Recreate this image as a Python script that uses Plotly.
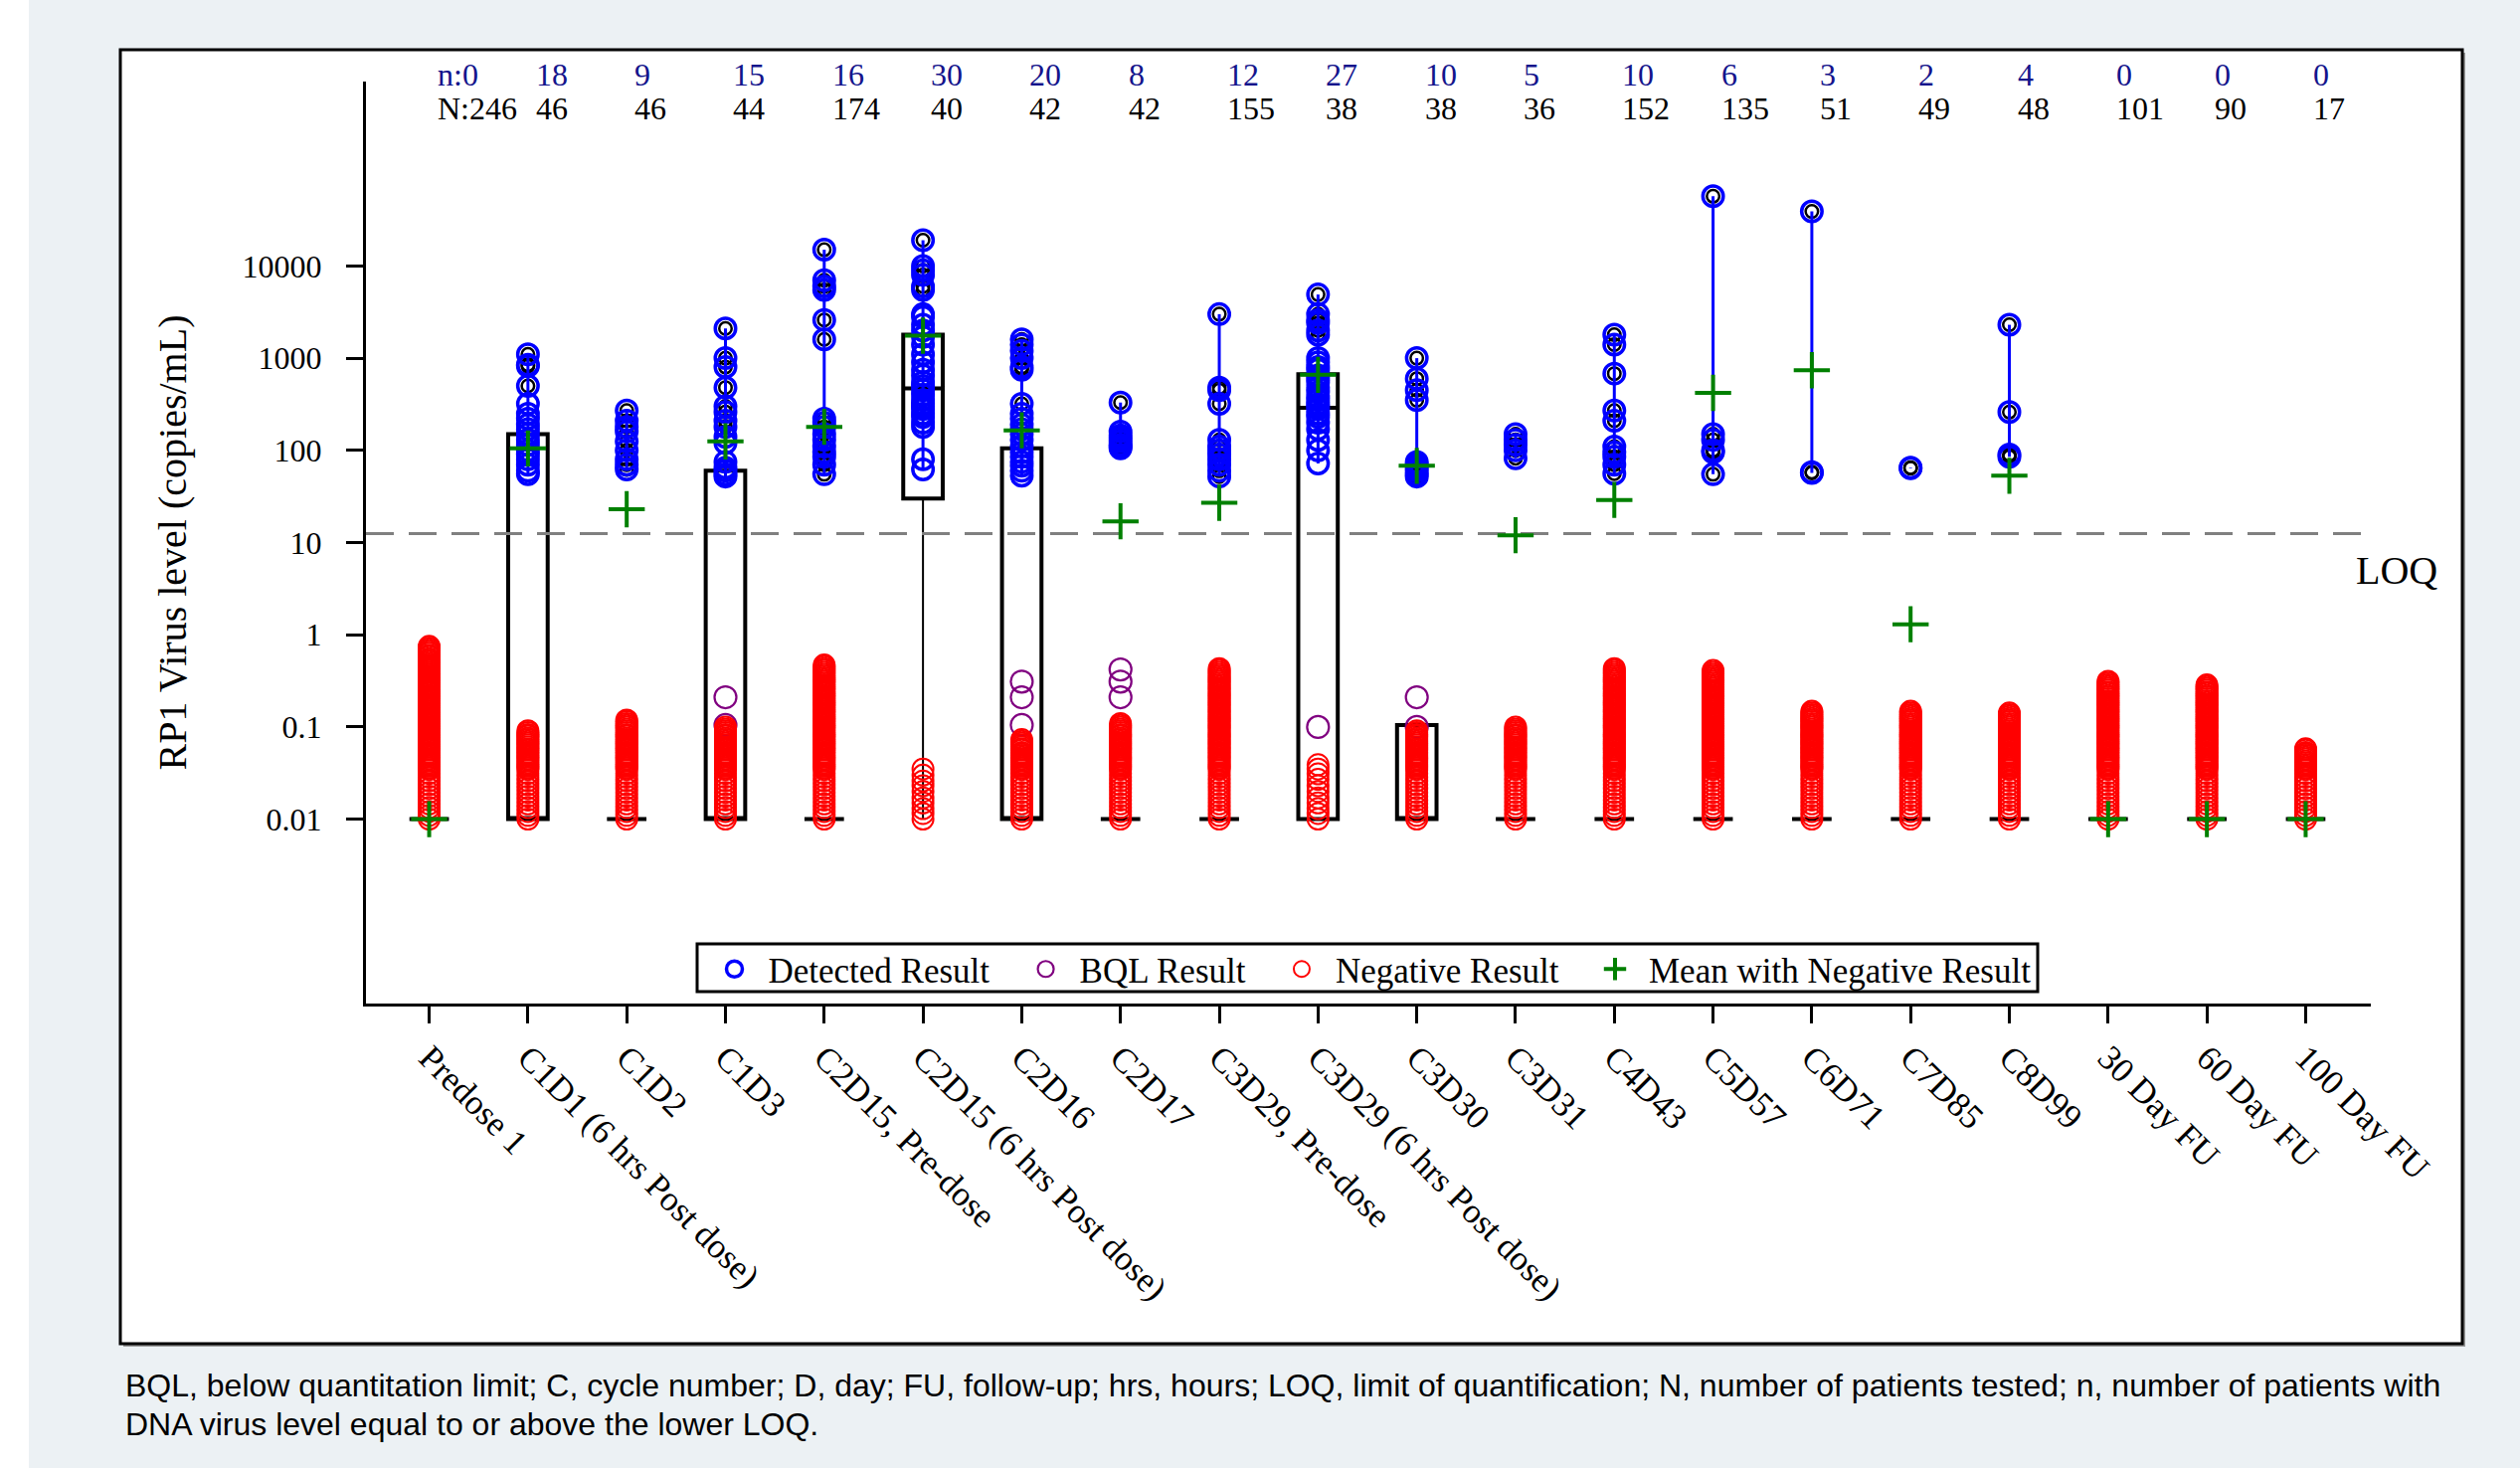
import math
import plotly.graph_objects as go

# ---- data -----------------------------------------------------------------
CATEGORIES = [
    "Predose 1", "C1D1 (6 hrs Post dose)", "C1D2", "C1D3", "C2D15, Pre-dose",
    "C2D15 (6 hrs Post dose)", "C2D16", "C2D17", "C3D29, Pre-dose",
    "C3D29 (6 hrs Post dose)", "C3D30", "C3D31", "C4D43", "C5D57", "C6D71",
    "C7D85", "C8D99", "30 Day FU", "60 Day FU", "100 Day FU",
]

# n: patients with level >= LOQ, N: patients tested
N_DETECTED = [0, 18, 9, 15, 16, 30, 20, 8, 12, 27, 10, 5, 10, 6, 3, 2, 4, 0, 0, 0]
N_TESTED = [246, 46, 46, 44, 174, 40, 42, 42, 155, 38, 38, 36, 152, 135, 51, 49, 48, 101, 90, 17]

LOQ = 12.5

# Detected results (copies/mL)
DETECTED = [
    [],
    [1100, 850, 820, 500, 320, 250, 220, 190, 170, 150, 130, 115, 100, 90, 80, 70, 60, 55],
    [270, 210, 180, 160, 125, 100, 80, 70, 62],
    [2100, 1000, 800, 480, 300, 260, 210, 180, 140, 120, 75, 65, 60, 55, 52],
    [15000, 7000, 6000, 5500, 2600, 1600, 220, 200, 180, 150, 130, 110, 95, 85, 70, 55],
    [19000, 10000, 9000, 8000, 6000, 5500, 3000, 2800, 2300, 2000, 1700, 1400, 1100, 900, 750,
     650, 550, 500, 450, 400, 350, 320, 300, 280, 250, 230, 200, 180, 80, 62],
    [1600, 1400, 1200, 1000, 800, 750, 320, 250, 220, 190, 170, 150, 130, 110, 95, 85, 75, 68, 60, 53],
    [330, 160, 145, 135, 125, 115, 110, 105],
    [3000, 480, 450, 320, 130, 110, 100, 90, 80, 70, 60, 52],
    [4900, 3000, 2600, 2400, 2000, 1800, 1000, 900, 800, 750, 650, 600, 550, 480, 430, 380, 350,
     320, 300, 280, 250, 230, 200, 170, 130, 100, 72],
    [1000, 600, 450, 350, 75, 70, 65, 60, 55, 52],
    [150, 130, 115, 100, 82],
    [1800, 1400, 680, 270, 210, 110, 95, 85, 70, 56],
    [57000, 150, 130, 100, 95, 55],
    [39000, 58, 57],
    [65, 64],
    [2300, 260, 90, 85],
    [],
    [],
    [],
]

# Below quantitation limit results
BQL = [
    [], [], [], [0.21, 0.105], [], [], [0.31, 0.21, 0.105], [0.42, 0.31, 0.21], [], [0.1],
    [0.21, 0.1], [], [], [], [], [], [], [], [], [],
]

# Negative results
NEGATIVE = [
    [0.01, 0.011, 0.0121, 0.0133, 0.0146, 0.0161, 0.0177, 0.0195, 0.0214, 0.0236, 0.026, 0.0285,
     0.0314, 0.0345, 0.036, 0.0376, 0.0393, 0.041, 0.043, 0.045, 0.047, 0.049, 0.051, 0.053, 0.056,
     0.058, 0.061, 0.064, 0.067, 0.07, 0.073, 0.076, 0.08, 0.083, 0.087, 0.091, 0.095, 0.1, 0.104,
     0.109, 0.114, 0.119, 0.124, 0.13, 0.136, 0.142, 0.148, 0.155, 0.162, 0.169, 0.177, 0.185,
     0.193, 0.202, 0.211, 0.22, 0.23, 0.24, 0.251, 0.262, 0.274, 0.286, 0.299, 0.313, 0.327, 0.342,
     0.357, 0.373, 0.39, 0.41, 0.43, 0.45, 0.47, 0.49, 0.51, 0.53, 0.55, 0.58, 0.6, 0.63, 0.66,
     0.69, 0.72, 0.75],
    [0.01, 0.011, 0.0121, 0.0133, 0.0146, 0.0161, 0.0177, 0.0195, 0.0214, 0.0236, 0.026, 0.0285,
     0.0314, 0.0345, 0.036, 0.0376, 0.0393, 0.041, 0.043, 0.045, 0.047, 0.049, 0.051, 0.053, 0.056,
     0.058, 0.061, 0.064, 0.067, 0.07, 0.073, 0.076, 0.08, 0.083, 0.087, 0.091],
    [0.01, 0.011, 0.0121, 0.0133, 0.0146, 0.0161, 0.0177, 0.0195, 0.0214, 0.0236, 0.026, 0.0285,
     0.0314, 0.0345, 0.036, 0.0376, 0.0393, 0.041, 0.043, 0.045, 0.047, 0.049, 0.051, 0.053, 0.056,
     0.058, 0.061, 0.064, 0.067, 0.07, 0.073, 0.076, 0.08, 0.083, 0.087, 0.091, 0.095, 0.1, 0.104,
     0.109, 0.114, 0.119],
    [0.01, 0.011, 0.0121, 0.0133, 0.0146, 0.0161, 0.0177, 0.0195, 0.0214, 0.0236, 0.026, 0.0285,
     0.0314, 0.0345, 0.036, 0.0376, 0.0393, 0.041, 0.043, 0.045, 0.047, 0.049, 0.051, 0.053, 0.056,
     0.058, 0.061, 0.064, 0.067, 0.07, 0.073, 0.076, 0.08, 0.083, 0.087, 0.091, 0.095, 0.1],
    [0.01, 0.011, 0.0121, 0.0133, 0.0146, 0.0161, 0.0177, 0.0195, 0.0214, 0.0236, 0.026, 0.0285,
     0.0314, 0.0345, 0.036, 0.0376, 0.0393, 0.041, 0.043, 0.045, 0.047, 0.049, 0.051, 0.053, 0.056,
     0.058, 0.061, 0.064, 0.067, 0.07, 0.073, 0.076, 0.08, 0.083, 0.087, 0.091, 0.095, 0.1, 0.104,
     0.109, 0.114, 0.119, 0.124, 0.13, 0.136, 0.142, 0.148, 0.155, 0.162, 0.169, 0.177, 0.185,
     0.193, 0.202, 0.211, 0.22, 0.23, 0.24, 0.251, 0.262, 0.274, 0.286, 0.299, 0.313, 0.327, 0.342,
     0.357, 0.373, 0.39, 0.41, 0.43, 0.45, 0.47],
    [0.01, 0.0115, 0.013, 0.015, 0.017, 0.02, 0.023, 0.026, 0.03, 0.035],
    [0.01, 0.011, 0.0121, 0.0133, 0.0146, 0.0161, 0.0177, 0.0195, 0.0214, 0.0236, 0.026, 0.0285,
     0.0314, 0.0345, 0.036, 0.0376, 0.0393, 0.041, 0.043, 0.045, 0.047, 0.049, 0.051, 0.053, 0.056,
     0.058, 0.061, 0.064, 0.067, 0.07, 0.073],
    [0.01, 0.011, 0.0121, 0.0133, 0.0146, 0.0161, 0.0177, 0.0195, 0.0214, 0.0236, 0.026, 0.0285,
     0.0314, 0.0345, 0.036, 0.0376, 0.0393, 0.041, 0.043, 0.045, 0.047, 0.049, 0.051, 0.053, 0.056,
     0.058, 0.061, 0.064, 0.067, 0.07, 0.073, 0.076, 0.08, 0.083, 0.087, 0.091, 0.095, 0.1, 0.104,
     0.109],
    [0.01, 0.011, 0.0121, 0.0133, 0.0146, 0.0161, 0.0177, 0.0195, 0.0214, 0.0236, 0.026, 0.0285,
     0.0314, 0.0345, 0.036, 0.0376, 0.0393, 0.041, 0.043, 0.045, 0.047, 0.049, 0.051, 0.053, 0.056,
     0.058, 0.061, 0.064, 0.067, 0.07, 0.073, 0.076, 0.08, 0.083, 0.087, 0.091, 0.095, 0.1, 0.104,
     0.109, 0.114, 0.119, 0.124, 0.13, 0.136, 0.142, 0.148, 0.155, 0.162, 0.169, 0.177, 0.185,
     0.193, 0.202, 0.211, 0.22, 0.23, 0.24, 0.251, 0.262, 0.274, 0.286, 0.299, 0.313, 0.327, 0.342,
     0.357, 0.373, 0.39, 0.41, 0.43],
    [0.01, 0.0115, 0.013, 0.015, 0.017, 0.02, 0.023, 0.027, 0.031, 0.035, 0.039],
    [0.01, 0.011, 0.0121, 0.0133, 0.0146, 0.0161, 0.0177, 0.0195, 0.0214, 0.0236, 0.026, 0.0285,
     0.0314, 0.0345, 0.036, 0.0376, 0.0393, 0.041, 0.043, 0.045, 0.047, 0.049, 0.051, 0.053, 0.056,
     0.058, 0.061, 0.064, 0.067, 0.07, 0.073, 0.076, 0.08, 0.083, 0.087, 0.091],
    [0.01, 0.011, 0.0121, 0.0133, 0.0146, 0.0161, 0.0177, 0.0195, 0.0214, 0.0236, 0.026, 0.0285,
     0.0314, 0.0345, 0.036, 0.0376, 0.0393, 0.041, 0.043, 0.045, 0.047, 0.049, 0.051, 0.053, 0.056,
     0.058, 0.061, 0.064, 0.067, 0.07, 0.073, 0.076, 0.08, 0.083, 0.087, 0.091, 0.095, 0.1],
    [0.01, 0.011, 0.0121, 0.0133, 0.0146, 0.0161, 0.0177, 0.0195, 0.0214, 0.0236, 0.026, 0.0285,
     0.0314, 0.0345, 0.036, 0.0376, 0.0393, 0.041, 0.043, 0.045, 0.047, 0.049, 0.051, 0.053, 0.056,
     0.058, 0.061, 0.064, 0.067, 0.07, 0.073, 0.076, 0.08, 0.083, 0.087, 0.091, 0.095, 0.1, 0.104,
     0.109, 0.114, 0.119, 0.124, 0.13, 0.136, 0.142, 0.148, 0.155, 0.162, 0.169, 0.177, 0.185,
     0.193, 0.202, 0.211, 0.22, 0.23, 0.24, 0.251, 0.262, 0.274, 0.286, 0.299, 0.313, 0.327, 0.342,
     0.357, 0.373, 0.39, 0.41, 0.43],
    [0.01, 0.011, 0.0121, 0.0133, 0.0146, 0.0161, 0.0177, 0.0195, 0.0214, 0.0236, 0.026, 0.0285,
     0.0314, 0.0345, 0.036, 0.0376, 0.0393, 0.041, 0.043, 0.045, 0.047, 0.049, 0.051, 0.053, 0.056,
     0.058, 0.061, 0.064, 0.067, 0.07, 0.073, 0.076, 0.08, 0.083, 0.087, 0.091, 0.095, 0.1, 0.104,
     0.109, 0.114, 0.119, 0.124, 0.13, 0.136, 0.142, 0.148, 0.155, 0.162, 0.169, 0.177, 0.185,
     0.193, 0.202, 0.211, 0.22, 0.23, 0.24, 0.251, 0.262, 0.274, 0.286, 0.299, 0.313, 0.327, 0.342,
     0.357, 0.373, 0.39, 0.41],
    [0.01, 0.011, 0.0121, 0.0133, 0.0146, 0.0161, 0.0177, 0.0195, 0.0214, 0.0236, 0.026, 0.0285,
     0.0314, 0.0345, 0.036, 0.0376, 0.0393, 0.041, 0.043, 0.045, 0.047, 0.049, 0.051, 0.053, 0.056,
     0.058, 0.061, 0.064, 0.067, 0.07, 0.073, 0.076, 0.08, 0.083, 0.087, 0.091, 0.095, 0.1, 0.104,
     0.109, 0.114, 0.119, 0.124, 0.13, 0.136, 0.142, 0.148],
    [0.01, 0.011, 0.0121, 0.0133, 0.0146, 0.0161, 0.0177, 0.0195, 0.0214, 0.0236, 0.026, 0.0285,
     0.0314, 0.0345, 0.036, 0.0376, 0.0393, 0.041, 0.043, 0.045, 0.047, 0.049, 0.051, 0.053, 0.056,
     0.058, 0.061, 0.064, 0.067, 0.07, 0.073, 0.076, 0.08, 0.083, 0.087, 0.091, 0.095, 0.1, 0.104,
     0.109, 0.114, 0.119, 0.124, 0.13, 0.136, 0.142, 0.148],
    [0.01, 0.011, 0.0121, 0.0133, 0.0146, 0.0161, 0.0177, 0.0195, 0.0214, 0.0236, 0.026, 0.0285,
     0.0314, 0.0345, 0.036, 0.0376, 0.0393, 0.041, 0.043, 0.045, 0.047, 0.049, 0.051, 0.053, 0.056,
     0.058, 0.061, 0.064, 0.067, 0.07, 0.073, 0.076, 0.08, 0.083, 0.087, 0.091, 0.095, 0.1, 0.104,
     0.109, 0.114, 0.119, 0.124, 0.13, 0.136, 0.142],
    [0.01, 0.011, 0.0121, 0.0133, 0.0146, 0.0161, 0.0177, 0.0195, 0.0214, 0.0236, 0.026, 0.0285,
     0.0314, 0.0345, 0.036, 0.0376, 0.0393, 0.041, 0.043, 0.045, 0.047, 0.049, 0.051, 0.053, 0.056,
     0.058, 0.061, 0.064, 0.067, 0.07, 0.073, 0.076, 0.08, 0.083, 0.087, 0.091, 0.095, 0.1, 0.104,
     0.109, 0.114, 0.119, 0.124, 0.13, 0.136, 0.142, 0.148, 0.155, 0.162, 0.169, 0.177, 0.185,
     0.193, 0.202, 0.211, 0.22, 0.23, 0.24, 0.251, 0.262, 0.274, 0.286, 0.299, 0.313],
    [0.01, 0.011, 0.0121, 0.0133, 0.0146, 0.0161, 0.0177, 0.0195, 0.0214, 0.0236, 0.026, 0.0285,
     0.0314, 0.0345, 0.036, 0.0376, 0.0393, 0.041, 0.043, 0.045, 0.047, 0.049, 0.051, 0.053, 0.056,
     0.058, 0.061, 0.064, 0.067, 0.07, 0.073, 0.076, 0.08, 0.083, 0.087, 0.091, 0.095, 0.1, 0.104,
     0.109, 0.114, 0.119, 0.124, 0.13, 0.136, 0.142, 0.148, 0.155, 0.162, 0.169, 0.177, 0.185,
     0.193, 0.202, 0.211, 0.22, 0.23, 0.24, 0.251, 0.262, 0.274, 0.286],
    [0.01, 0.011, 0.0121, 0.0133, 0.0146, 0.0161, 0.0177, 0.0195, 0.0214, 0.0236, 0.026, 0.0285,
     0.0314, 0.0345, 0.036, 0.0376, 0.0393, 0.041, 0.043, 0.045, 0.047, 0.049, 0.051, 0.053, 0.056,
     0.058],
]

# Mean including negative results
MEAN_WITH_NEG = [0.01, 105, 23, 125, 180, 1750, 165, 17, 27, 660, 68, 12, 29, 420, 740, 1.3, 53,
                 0.01, 0.01, 0.01]

# Box statistics
BOX_LOWER = [0.01, 0.01, 0.01, 0.01, 0.01, 0.01, 0.01, 0.01, 0.01, 0.01, 0.01, 0.01, 0.01, 0.01,
             0.01, 0.01, 0.01, 0.01, 0.01, 0.01]
BOX_Q1 = [0.01, 0.01, 0.01, 0.01, 0.01, 30, 0.01, 0.01, 0.01, 0.01, 0.01, 0.01, 0.01, 0.01,
          0.01, 0.01, 0.01, 0.01, 0.01, 0.01]
BOX_MEDIAN = [0.01, 0.01, 0.01, 0.01, 0.01, 470, 0.01, 0.01, 0.01, 290, 0.01, 0.01, 0.01, 0.01,
              0.01, 0.01, 0.01, 0.01, 0.01, 0.01]
BOX_Q3 = [0.01, 150, 0.01, 60, 0.01, 1800, 105, 0.01, 0.01, 670, 0.105, 0.01, 0.01, 0.01,
          0.01, 0.01, 0.01, 0.01, 0.01, 0.01]

Y_TICKS = [0.01, 0.1, 1, 10, 100, 1000, 10000]
Y_TICK_TEXT = ["0.01", "0.1", "1", "10", "100", "1000", "10000"]

FOOTNOTE_LINES = [
    "BQL, below quantitation limit; C, cycle number; D, day; FU, follow-up; hrs, hours; "
    "LOQ, limit of quantification; N, number of patients tested; n, number of patients with",
    "DNA virus level equal to or above the lower LOQ.",
]

# ---- styling / layout constants ------------------------------------------
W, H = 2534, 1479
ML, MR, MT, MB = 368, 150, 82, 470
X_RANGE = [-0.64, 19.66]
Y_RANGE = [-4, 6]
SERIF = "Liberation Serif, Times New Roman, serif"
SANS = "Liberation Sans, Arial, sans-serif"
PW, PH = W - ML - MR, H - MT - MB
NBSP = "\u00a0"


def px_x(p):
    return (p - ML) / PW


def px_y(p):
    return (H - MB - p) / PH


idx = list(range(len(CATEGORIES)))


def flatten(groups):
    xs, ys = [], []
    for i, vals in enumerate(groups):
        for v in vals:
            xs.append(i)
            ys.append(v)
    return xs, ys


fig = go.Figure()

# boxes
fig.add_trace(go.Box(
    x=idx, q1=BOX_Q1, median=BOX_MEDIAN, q3=BOX_Q3, lowerfence=BOX_Q1, upperfence=BOX_Q3,
    width=0.4, whiskerwidth=0, boxpoints=False, orientation="v",
    line=dict(color="black", width=4), fillcolor="rgba(0,0,0,0)",
    showlegend=False, hoverinfo="skip",
))

# lower whiskers
wx, wy = [], []
for i in idx:
    if BOX_LOWER[i] < BOX_Q1[i]:
        wx += [i, i, None]
        wy += [BOX_LOWER[i], BOX_Q1[i], None]
fig.add_trace(go.Scatter(x=wx, y=wy, mode="lines", line=dict(color="black", width=2),
                         showlegend=False, hoverinfo="skip"))

# LOQ reference line
fig.add_trace(go.Scatter(x=X_RANGE, y=[LOQ, LOQ], mode="lines",
                         line=dict(color="#808080", width=3, dash="28px,15px"),
                         showlegend=False, hoverinfo="skip"))

# BQL results
bx, by = flatten(BQL)
fig.add_trace(go.Scatter(
    x=bx, y=by, mode="markers", name="BQL Result" + NBSP * 2, legendrank=2,
    marker=dict(symbol="circle-open", size=22, color="#800080", line=dict(width=2.2, color="#800080")),
))

# negative results
nx, ny = flatten(NEGATIVE)
fig.add_trace(go.Scatter(
    x=nx, y=ny, mode="markers", name="Negative Result" + NBSP * 2, legendrank=3,
    marker=dict(symbol="circle-open", size=21, color="#FF0000", line=dict(width=2, color="#FF0000")),
))

# detected values beyond the upper fence are also drawn as outliers
ox, oy = [], []
for i in idx:
    fence = BOX_Q3[i] + 1.5 * (BOX_Q3[i] - BOX_Q1[i])
    for v in DETECTED[i]:
        if v > fence:
            ox.append(i)
            oy.append(v)
fig.add_trace(go.Scatter(
    x=ox, y=oy, mode="markers", showlegend=False, hoverinfo="skip",
    marker=dict(symbol="circle-open", size=12.5, color="black", line=dict(width=2.5, color="black")),
))

# range of detected values
rx, ry = [], []
for i in idx:
    if len(DETECTED[i]) >= 2:
        rx += [i, i, None]
        ry += [min(DETECTED[i]), max(DETECTED[i]), None]
fig.add_trace(go.Scatter(x=rx, y=ry, mode="lines", line=dict(color="#0000FF", width=3),
                         showlegend=False, hoverinfo="skip"))

# detected results
dx, dy = flatten(DETECTED)
fig.add_trace(go.Scatter(
    x=dx, y=dy, mode="markers", name="Detected Result" + NBSP * 2, legendrank=1,
    marker=dict(symbol="circle-open", size=20.5, color="#0000FF", line=dict(width=3.5, color="#0000FF")),
))

# means
fig.add_trace(go.Scatter(
    x=idx, y=MEAN_WITH_NEG, mode="markers", name="Mean with Negative Result", legendrank=4,
    marker=dict(symbol="cross-thin", size=26, color="#008000", line=dict(width=4, color="#008000")),
))

# ---- decoration ------------------------------------------------------------
shapes = [
    # page panel
    dict(type="rect", xref="paper", yref="paper", layer="below",
         x0=px_x(29), x1=px_x(W + 20), y0=px_y(1476), y1=px_y(-20),
         fillcolor="#ECF1F4", line=dict(width=0)),
    # shadow of the chart frame
    dict(type="rect", xref="paper", yref="paper", layer="below",
         x0=px_x(124), x1=px_x(2479), y0=px_y(1354), y1=px_y(53),
         fillcolor="#9a9a9a", line=dict(width=0)),
    # chart frame
    dict(type="rect", xref="paper", yref="paper", layer="below",
         x0=px_x(121), x1=px_x(2476), y0=px_y(1351), y1=px_y(50),
         fillcolor="white", line=dict(color="black", width=3)),
    # legend frame
    dict(type="rect", xref="paper", yref="paper", layer="below",
         x0=px_x(701), x1=px_x(2049), y0=px_y(997), y1=px_y(949),
         fillcolor="white", line=dict(color="black", width=3)),
]

annotations = []
for i in idx:
    n_txt = ("n:" if i == 0 else "") + str(N_DETECTED[i])
    N_txt = ("N:" if i == 0 else "") + str(N_TESTED[i])
    annotations.append(dict(x=i, xref="x", y=px_y(75), yref="paper", text=n_txt,
                            xanchor="left", yanchor="middle", xshift=6, showarrow=False,
                            font=dict(family=SERIF, size=32, color="#14148C")))
    annotations.append(dict(x=i, xref="x", y=px_y(109), yref="paper", text=N_txt,
                            xanchor="left", yanchor="middle", xshift=6, showarrow=False,
                            font=dict(family=SERIF, size=32, color="black")))

annotations.append(dict(x=1, xref="paper", y=math.log10(LOQ), yref="y", text="LOQ",
                        xanchor="left", yanchor="middle", xshift=-17, yshift=-37,
                        showarrow=False, font=dict(family=SERIF, size=40, color="black")))

for line_text, yc in zip(FOOTNOTE_LINES, [1393, 1432]):
    annotations.append(dict(x=px_x(124), xref="paper", y=px_y(yc), yref="paper", text=line_text,
                            xanchor="left", yanchor="middle", align="left", showarrow=False,
                            font=dict(family=SANS, size=32, color="black")))

fig.update_layout(
    width=W, height=H,
    margin=dict(l=ML, r=MR, t=MT, b=MB, pad=0),
    paper_bgcolor="white", plot_bgcolor="rgba(0,0,0,0)",
    shapes=shapes, annotations=annotations,
    font=dict(family=SERIF, color="black"),
    legend=dict(orientation="h", x=0.5, xanchor="center", y=px_y(1004), yanchor="bottom",
                bgcolor="rgba(0,0,0,0)", borderwidth=0, itemwidth=58,
                font=dict(family=SERIF, size=35, color="black"), itemsizing="trace"),
    xaxis=dict(range=X_RANGE, tickmode="array", tickvals=idx, ticktext=CATEGORIES,
               tickangle=45, ticks="outside", ticklen=17, tickwidth=2.5, tickcolor="black",
               showline=True, linewidth=3, linecolor="black", showgrid=False, zeroline=False,
               tickfont=dict(family=SERIF, size=35, color="black")),
    yaxis=dict(type="log", range=Y_RANGE, tickmode="array", tickvals=Y_TICKS, ticktext=Y_TICK_TEXT,
               ticks="outside", ticklen=17, tickwidth=2.5, tickcolor="black",
               showline=True, linewidth=3, linecolor="black", showgrid=False, zeroline=False,
               ticklabelstandoff=18,
               tickfont=dict(family=SERIF, size=32, color="black"),
               title=dict(text="RP1 Virus level (copies/mL)", standoff=44,
                          font=dict(family=SERIF, size=40, color="black"))),
)

fig.write_html("out.html")
